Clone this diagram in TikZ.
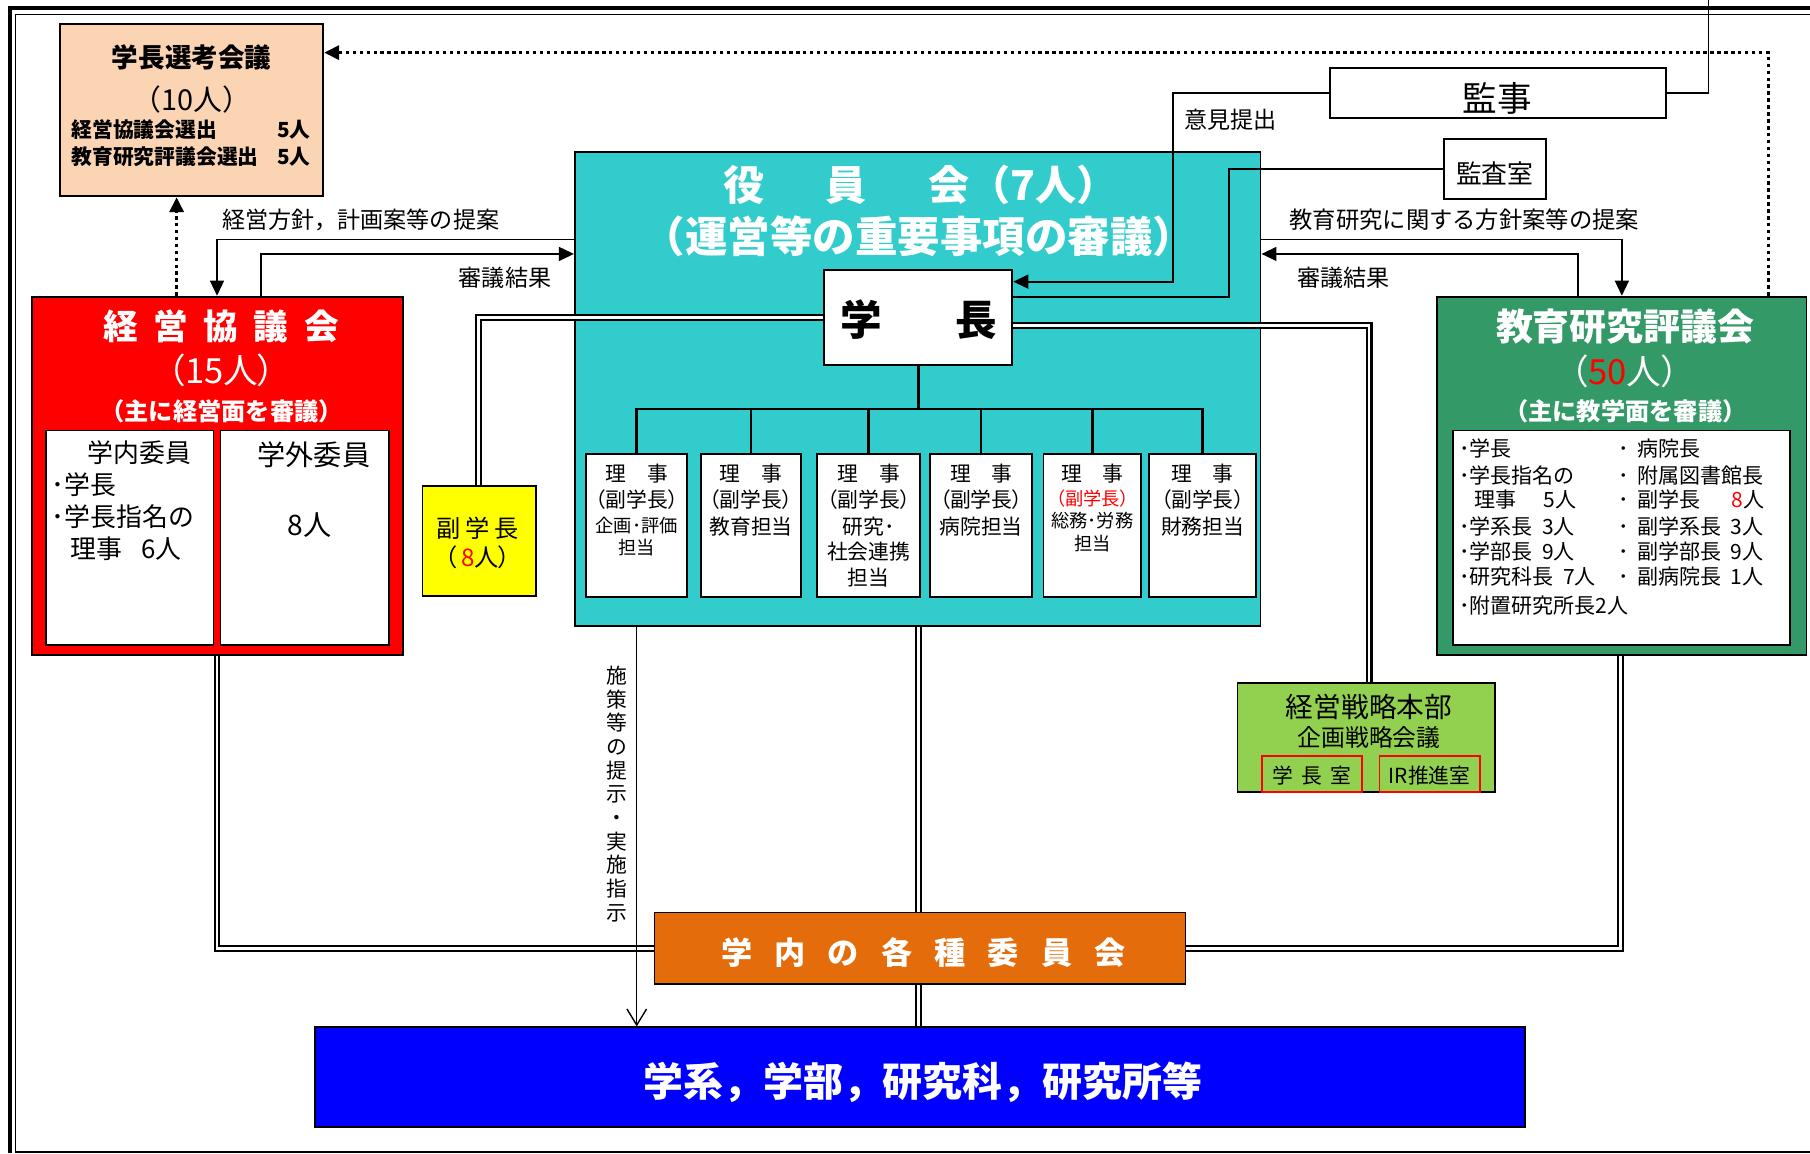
\documentclass[tikz,border=0pt]{standalone}
\usepackage{fontspec}
\setmainfont{Noto Sans CJK JP}
\newfontfamily\propfont{Noto Sans CJK JP}[RawFeature=+palt]
\usetikzlibrary{arrows.meta,fit}
\definecolor{peach}{HTML}{FBD4B4}
\definecolor{cyanc}{HTML}{33CCCC}
\definecolor{greenc}{HTML}{339966}
\definecolor{lgreen}{HTML}{92D050}
\definecolor{orangec}{HTML}{E46C0A}
\definecolor{bluec}{HTML}{0000FF}
\definecolor{redc}{HTML}{FF0000}
\definecolor{yellowc}{HTML}{FFFF00}
\begin{document}
\begin{tikzpicture}[x=0.5pt,y=-0.5pt,
 bx/.style={draw=black,line width=0.8pt,inner sep=0pt},
 cn/.style={line width=0.8pt},
 dbl2/.style={draw=black,line width=0.9pt,double=white,double distance=1.2pt},
 arrw/.style={-{Triangle[length=6.5pt,width=6pt]}},
 dotln/.style={line width=1.6pt,dash pattern=on 1.5pt off 1.5pt},
 tx/.style={inner sep=0pt,outer sep=0pt},
 wt/.style={tx,text=white}]
\useasboundingbox (0,0) rectangle (1568,999);
\fill[white] (0,0) rectangle (1568,999);
% frame
\draw[line width=1.7pt] (8.3,999) -- (8.3,6.8) -- (1568,6.8);
\draw[line width=0.6pt] (13.5,999) -- (13.5,12.5) -- (1568,12.5);
\draw[line width=0.6pt] (13.5,998) -- (1568,998);

% ---------- boxes ----------
\node[bx,fill=peach,fit={(52,21)(280,170)}] (senko) {};
\node[bx,fill=redc,fit={(28,257)(349,567.5)}] (keiei) {};
\node[bx,fill=white,fit={(40,373)(185,559)}] (naibu) {};
\node[bx,fill=white,fit={(191,373)(337,559)}] (gaibu) {};
\node[bx,fill=yellowc,fit={(366,421)(464,516.5)}] (fuku) {};
\node[bx,fill=cyanc,fit={(498,132)(1092,542.5)}] (yakuin) {};
\node[bx,fill=white,fit={(714,234)(877,316)}] (gakucho) {};
\node[bx,fill=white,fit={(508,393)(595,517)}] (r1) {};
\node[bx,fill=white,fit={(607.5,393)(694,517)}] (r2) {};
\node[bx,fill=white,fit={(708,393)(797,517)}] (r3) {};
\node[bx,fill=white,fit={(806,393)(894,517)}] (r4) {};
\node[bx,fill=white,fit={(904,393)(988.5,517)}] (r5) {};
\node[bx,fill=white,fit={(995.5,393)(1088,517)}] (r6) {};
\node[bx,fill=white,fit={(1152,58.6)(1443,102)}] (kanji) {};
\node[bx,fill=white,fit={(1250.6,120.4)(1339,172.4)}] (kansa) {};
\node[bx,fill=greenc,fit={(1245,257)(1565,567.6)}] (kyoiku) {};
\node[bx,fill=white,fit={(1259,373)(1551,559)}] (kyoikuin) {};
\node[bx,fill=lgreen,fit={(1072,592)(1295,686)}] (senryaku) {};
\node[draw=redc,line width=0.8pt,inner sep=0pt,fit={(1093,655)(1180,686)}] (shitsu) {};
\node[draw=redc,line width=0.8pt,inner sep=0pt,fit={(1195,655)(1282,686)}] (irsuishin) {};
\node[bx,fill=orangec,fit={(567,790.5)(1027,852.6)}] (iinkai) {};
\node[bx,fill=bluec,fit={(273,890)(1321,976)}] (gakkei) {};

% ---------- texts ----------
% senko
\node[tx,font=\bfseries\fontsize{11.5}{13}\selectfont] (sT1) at (166,50) {学長選考会議};
\node[tx,font=\fontsize{12.5}{14}\selectfont] (sT2) at (166,86) {（10人）};
\node[tx,anchor=west,font=\bfseries\fontsize{9}{10}\selectfont] (sT3) at (62,112) {経営協議会選出};
\node[tx,anchor=east,font=\bfseries\fontsize{9}{10}\selectfont] (sT4) at (269,112) {5人};
\node[tx,anchor=west,font=\bfseries\fontsize{9}{10}\selectfont] (sT5) at (62,136) {教育研究評議会選出};
\node[tx,anchor=east,font=\bfseries\fontsize{9}{10}\selectfont] (sT6) at (269,136) {5人};
% keiei
\node[wt,font=\bfseries\fontsize{15}{17}\selectfont] (kT1) at (191.5,283) {経\hspace{0.45em}営\hspace{0.45em}協\hspace{0.45em}議\hspace{0.45em}会};
\node[wt,font=\propfont\fontsize{15}{17}\selectfont] (kT2) at (192,321) {（15人）};
\node[wt,font=\bfseries\fontsize{10.5}{12}\selectfont] (kT3) at (192,356) {（主に経営面を審議）};
\node[tx,font=\fontsize{11.2}{13}\selectfont] (kT4) at (121,392.5) {学内委員};
\node[tx,anchor=west,font=\fontsize{11.2}{13}\selectfont] (kT5) at (45,420) {･学長};
\node[tx,anchor=west,font=\fontsize{11.2}{13}\selectfont] (kT6) at (45,448) {･学長指名の};
\node[tx,anchor=west,font=\fontsize{11.2}{13}\selectfont] (kT7) at (61,475.5) {理事\hspace{0.75em}6人};
\node[tx,font=\fontsize{12.2}{14}\selectfont] (kT8) at (272,394) {学外委員};
\node[tx,font=\fontsize{12.2}{14}\selectfont] (kT9) at (268,455) {8人};
% fuku
\node[tx,font=\fontsize{10.5}{12}\selectfont] (fT1) at (414,458) {副\hspace{0.2em}学\hspace{0.2em}長};
\node[tx,font=\propfont\fontsize{10.5}{12}\selectfont] (fT2) at (414,483) {（\,{\color{redc}8}人）};
% yakuin
\node[wt,font=\bfseries\fontsize{17.8}{20}\selectfont] (yT1) at (797.5,160) {役\hspace{1.5em}員\hspace{1.5em}会（7人）};
\node[wt,font=\bfseries\fontsize{18.4}{20}\selectfont] (yT2) at (796,205) {（運営等の重要事項の審議）};
\node[tx,font=\bfseries\fontsize{18}{20}\selectfont] (gT) at (796,277) {学\hspace{1.75em}長};
% riji
\node[tx,font=\fontsize{9}{11}\selectfont] (r1a) at (551.5,410) {理　事};
\node[tx,font=\propfont\fontsize{9}{11}\selectfont] (r1b) at (551.5,433) {（副学長）};
\node[tx,font=\fontsize{7.9}{9}\selectfont] (r1c) at (551.5,455) {企画･評価};
\node[tx,font=\fontsize{7.9}{9}\selectfont] (r1d) at (551.5,474) {担当};
\node[tx,font=\fontsize{9}{11}\selectfont] (r2a) at (650.7,410) {理　事};
\node[tx,font=\propfont\fontsize{9}{11}\selectfont] (r2b) at (650.7,433) {（副学長）};
\node[tx,font=\fontsize{9}{11}\selectfont] (r2c) at (650.7,456) {教育担当};
\node[tx,font=\fontsize{9}{11}\selectfont] (r3a) at (752.5,410) {理　事};
\node[tx,font=\propfont\fontsize{9}{11}\selectfont] (r3b) at (752.5,433) {（副学長）};
\node[tx,font=\fontsize{9}{11}\selectfont] (r3c) at (752.5,456) {研究･};
\node[tx,font=\fontsize{9}{11}\selectfont] (r3d) at (752.5,478) {社会連携};
\node[tx,font=\fontsize{9}{11}\selectfont] (r3e) at (752.5,500) {担当};
\node[tx,font=\fontsize{9}{11}\selectfont] (r4a) at (850,410) {理　事};
\node[tx,font=\propfont\fontsize{9}{11}\selectfont] (r4b) at (850,433) {（副学長）};
\node[tx,font=\fontsize{9}{11}\selectfont] (r4c) at (850,456) {病院担当};
\node[tx,font=\fontsize{9}{11}\selectfont] (r5a) at (946.3,410) {理　事};
\node[tx,text=redc,font=\propfont\fontsize{7.9}{9}\selectfont] (r5b) at (946.3,432) {（副学長）};
\node[tx,font=\fontsize{7.9}{9}\selectfont] (r5c) at (946.3,451) {総務･労務};
\node[tx,font=\fontsize{7.9}{9}\selectfont] (r5d) at (946.3,470.5) {担当};
\node[tx,font=\fontsize{9}{11}\selectfont] (r6a) at (1041.8,410) {理　事};
\node[tx,font=\propfont\fontsize{9}{11}\selectfont] (r6b) at (1041.8,433) {（副学長）};
\node[tx,font=\fontsize{9}{11}\selectfont] (r6c) at (1041.8,456) {財務担当};
% kanji / kansa / labels
\node[tx,font=\fontsize{15}{17}\selectfont] (kjT) at (1297,85) {監事};
\node[tx,font=\fontsize{11.2}{13}\selectfont] (ksT) at (1295,150) {監査室};
\node[tx,font=\fontsize{10}{12}\selectfont] (lb1) at (1066,104) {意見提出};
\node[tx,font=\fontsize{10}{12}\selectfont] (lb2) at (312.5,190.6) {経営方針，計画案等の提案};
\node[tx,font=\fontsize{10}{12}\selectfont] (lb3) at (437.5,241) {審議結果};
\node[tx,font=\fontsize{10.1}{12}\selectfont] (lb4) at (1268.5,190.6) {教育研究に関する方針案等の提案};
\node[tx,font=\fontsize{10}{12}\selectfont] (lb5) at (1164,241) {審議結果};
% kyoiku
\node[wt,font=\bfseries\fontsize{16}{18}\selectfont] (eT1) at (1408,283) {教育研究評議会};
\node[wt,font=\propfont\fontsize{15}{17}\selectfont] (eT2) at (1407.5,322) {（{\color{redc}50}人）};
\node[wt,font=\bfseries\fontsize{10.5}{12}\selectfont] (eT3) at (1408,356.5) {（主に教学面を審議）};
\node[tx,anchor=west,font=\fontsize{9.1}{11}\selectfont] (eL1) at (1264,388.5) {･学長};
\node[tx,anchor=west,font=\fontsize{9.1}{11}\selectfont] (eL2) at (1264,411.6) {･学長指名の};
\node[tx,anchor=west,font=\fontsize{9.1}{11}\selectfont] (eL3) at (1277,433) {理事\hspace{1.3em}5人};
\node[tx,anchor=west,font=\fontsize{9.1}{11}\selectfont] (eL4) at (1264,455.8) {･学系長\hspace{0.45em}3人};
\node[tx,anchor=west,font=\fontsize{9.1}{11}\selectfont] (eL5) at (1264,478) {･学部長\hspace{0.45em}9人};
\node[tx,anchor=west,font=\fontsize{9.1}{11}\selectfont] (eL6) at (1264,499.7) {･研究科長\hspace{0.45em}7人};
\node[tx,anchor=west,font=\fontsize{9.1}{11}\selectfont] (eL7) at (1264,524.3) {･附置研究所長2人};
\node[tx,anchor=west,font=\fontsize{9.1}{11}\selectfont] (eR1) at (1402,388.5) {･\hspace{0.4em}病院長};
\node[tx,anchor=west,font=\fontsize{9.1}{11}\selectfont] (eR2) at (1402,411.6) {･\hspace{0.4em}附属図書館長};
\node[tx,anchor=west,font=\fontsize{9.1}{11}\selectfont] (eR3) at (1402,433) {･\hspace{0.4em}副学長\hspace{1.5em}{\color{redc}8}人};
\node[tx,anchor=west,font=\fontsize{9.1}{11}\selectfont] (eR4) at (1402,455.8) {･\hspace{0.4em}副学系長\hspace{0.45em}3人};
\node[tx,anchor=west,font=\fontsize{9.1}{11}\selectfont] (eR5) at (1402,478) {･\hspace{0.4em}副学部長\hspace{0.45em}9人};
\node[tx,anchor=west,font=\fontsize{9.1}{11}\selectfont] (eR6) at (1402,499.7) {･\hspace{0.4em}副病院長\hspace{0.45em}1人};
% senryaku
\node[tx,font=\fontsize{12}{14}\selectfont] (srT1) at (1186,612) {経営戦略本部};
\node[tx,font=\fontsize{10.3}{12}\selectfont] (srT2) at (1186,639) {企画戦略会議};
\node[tx,font=\fontsize{9}{11}\selectfont] (srT3) at (1136.5,671.6) {学\hspace{0.4em}長\hspace{0.4em}室};
\node[tx,font=\fontsize{9}{11}\selectfont] (srT4) at (1238.5,671.6) {IR推進室};
% iinkai / gakkei
\node[wt,font=\bfseries\fontsize{13.5}{15}\selectfont] (iT) at (800,825) {学\hspace{0.71em}内\hspace{0.71em}の\hspace{0.71em}各\hspace{0.71em}種\hspace{0.71em}委\hspace{0.71em}員\hspace{0.71em}会};
\node[wt,font=\bfseries\fontsize{17.3}{19}\selectfont] (bT) at (799.5,938) {学系，学部，研究科，研究所等};
% vertical label
\node[tx,align=center,font=\fontsize{9}{10.25}\selectfont] (vT) at (534,687.7) {施\\策\\等\\の\\提\\示\\・\\実\\施\\指\\示};

% ---------- helper coordinates ----------
\coordinate (dtop) at (1532,45.6);
\coordinate (x153) at (153,0);
\coordinate (y207) at (0,207.5);
\coordinate (y220) at (0,220);
\coordinate (x188) at (188,0);
\coordinate (x226) at (226,0);
\coordinate (x1405) at (1405,0);
\coordinate (x1367) at (1367,0);
\coordinate (topout) at (1480,0);
\coordinate (c1016) at (1016,244);
\coordinate (c1065) at (1065,257);
\coordinate (c414) at (414.5,275);
\coordinate (c1186) at (1186,282);
\coordinate (c188) at (188,822);
\coordinate (c1404) at (1404,822);
\coordinate (c796) at (796,0);
\coordinate (c551) at (551.6,0);
\coordinate (tb) at (795.5,354.5);

% ---------- connectors ----------
\draw[dotln,arrw] (kyoiku.north -| dtop) -- (dtop) -- (senko.east |- dtop);
\draw[dotln,arrw] (keiei.north -| x153) -- (senko.south -| x153);
\draw[cn,arrw] (yakuin.west |- y207) -| (keiei.north -| x188);
\draw[cn,arrw] (keiei.north -| x226) |- (yakuin.west |- y220);
\draw[cn,arrw] (yakuin.east |- y207) -| (kyoiku.north -| x1405);
\draw[cn,arrw] (kyoiku.north -| x1367) |- (yakuin.east |- y220);
\draw[cn] (kanji.east) -| (topout);
\draw[cn,arrw] (kanji.west) -| (c1016) -- (gakucho.east |- c1016);
\draw[cn] (kansa.west) -| (c1065) -- (gakucho.east |- c1065);
% tree
\draw[line width=1.1pt] (gakucho.south) -- (tb);
\draw[line width=1.1pt] (r1.north) -- (r1.north |- tb) -- (r6.north |- tb) -- (r6.north);
\draw[line width=1.1pt] (r2.north) -- (r2.north |- tb);
\draw[line width=1.1pt] (r3.north) -- (r3.north |- tb);
\draw[line width=1.1pt] (r4.north) -- (r4.north |- tb);
\draw[line width=1.1pt] (r5.north) -- (r5.north |- tb);
% double lines
\draw[dbl2] (gakucho.west |- c414) -- (c414) -- (fuku.north -| c414);
\draw[dbl2] (gakucho.east |- c1186) -- (c1186) -- (senryaku.north -| c1186);
\draw[dbl2] (keiei.south -| c188) -- (c188) -- (iinkai.west |- c188);
\draw[dbl2] (kyoiku.south -| c1404) -- (c1404) -- (iinkai.east |- c1404);
\draw[dbl2] (yakuin.south -| c796) -- (iinkai.north -| c796);
\draw[dbl2] (iinkai.south -| c796) -- (gakkei.north -| c796);
% policy arrow
\draw[line width=0.6pt,-{Straight Barb[length=7pt,width=8.5pt]}] (yakuin.south -| c551) -- (gakkei.north -| c551);
\end{tikzpicture}
\end{document}
